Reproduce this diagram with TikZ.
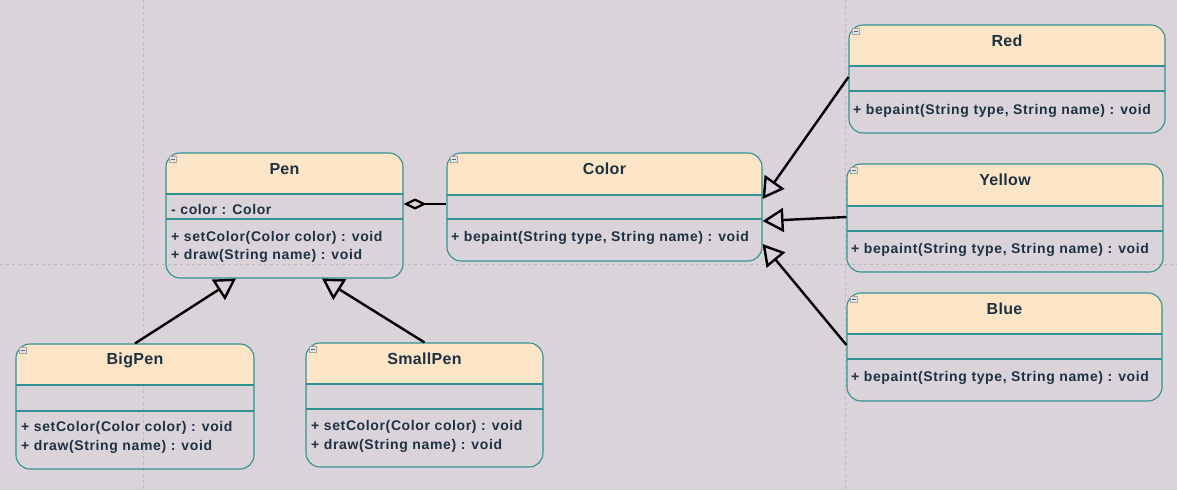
\documentclass[tikz,border=0pt]{standalone}
\usepackage{fontspec}
\setmainfont{Liberation Sans}
\newfontfamily\bodyfont[LetterSpace=4.5]{Liberation Sans}
\newfontfamily\titlefont[LetterSpace=2]{Liberation Sans}
\usetikzlibrary{arrows.meta,fit}
\definecolor{bgc}{HTML}{DBD3DA}
\definecolor{headc}{HTML}{FBE5C6}
\definecolor{framec}{HTML}{309191}
\definecolor{txtc}{HTML}{1E3142}
\definecolor{gridc}{HTML}{C2B9C1}
\tikzset{
  classframe/.style={draw=framec, line width=1.1pt, rounded corners=14pt, inner sep=0pt, fill=none},
  sepline/.style={draw=framec, line width=1.3pt},
  titletxt/.style={font=\titlefont\bfseries\fontsize{16}{18}\selectfont, text=txtc, inner sep=0pt, anchor=center},
  bodytxt/.style={font=\bodyfont\bfseries\fontsize{14}{18}\selectfont, text=txtc, inner sep=0pt, anchor=west, align=left},
  gen/.style={draw=black, line width=2.4pt, -{Triangle[open, length=21pt, width=24pt, line width=2.4pt]}},
  agg/.style={draw=black, line width=2.4pt, -{Diamond[open, length=23pt, width=11pt, line width=2.2pt]}},
  gridline/.style={draw=gridc, dashed, line width=0.7pt},
  iconbox/.style={draw=gray!70, fill=gray!20, line width=0.5pt}
}
% name, x1, y1, x2, y2, header bottom, separator, title
\newcommand\umlbox[8]{%
  \begin{scope}
    \clip[rounded corners=14pt] (#2,#3) rectangle (#4,#5);
    \fill[headc] (#2,#3) rectangle (#4,#6);
  \end{scope}
  \node[classframe, fit={(#2,#3) (#4,#5)}] (#1) {};
  \draw[sepline] (#2,#6) -- (#4,#6);
  \draw[sepline] (#2,#7) -- (#4,#7);
  \draw[iconbox] (#2+3,#3+3) rectangle (#2+10,#3+9);
  \draw[gray!80!black, line width=0.6pt] (#2+4.5,#3+6) -- (#2+8.5,#3+6);
  \node[titletxt] (#1-title) at ({(#2+#4)/2}, #3+16) {#8};
}
\begin{document}
\begin{tikzpicture}[x=1pt,y=-1pt]
\useasboundingbox (0,0) rectangle (1177,490);
\fill[bgc] (0,0) rectangle (1177,490);
\draw[gridline] (143,0) -- (143,490);
\draw[gridline] (845,0) -- (845,490);
\draw[gridline] (0,264) -- (1177,264);

\umlbox{red}{849}{25}{1165}{133}{66}{91}{Red}
\node[bodytxt] (red-m) at (853,111) {+ bepaint(String type, String name) : void};

\umlbox{yellow}{847}{164}{1163}{272}{206}{231}{Yellow}
\node[bodytxt] (yellow-m) at (851,250) {+ bepaint(String type, String name) : void};

\umlbox{blue}{847}{293}{1162}{401}{334}{359}{Blue}
\node[bodytxt] (blue-m) at (851,378) {+ bepaint(String type, String name) : void};

\umlbox{color}{447}{153}{762}{261}{195}{219}{Color}
\node[bodytxt] (color-m) at (451,238) {+ bepaint(String type, String name) : void};

\umlbox{pen}{166}{153}{403}{278}{194}{219}{Pen}
\node[bodytxt] (pen-a) at (171,209) {- color : Color};
\node[bodytxt] (pen-m1) at (171,238) {+ setColor(Color color) : void};
\node[bodytxt] (pen-m2) at (171,256) {+ draw(String name) : void};

\umlbox{bigpen}{16}{344}{254}{469}{385}{411}{BigPen}
\node[bodytxt] (bigpen-m1) at (21,428) {+ setColor(Color color) : void};
\node[bodytxt] (bigpen-m2) at (21,447) {+ draw(String name) : void};

\umlbox{smallpen}{306}{343}{543}{467}{384}{409}{SmallPen}
\node[bodytxt] (smallpen-m1) at (311,427) {+ setColor(Color color) : void};
\node[bodytxt] (smallpen-m2) at (311,446) {+ draw(String name) : void};

% connectors
\draw[agg] (color.west |- 0,204) -- (pen.east |- 0,204);
\draw[gen] (bigpen.north) -- (pen.south -| 236,0);
\draw[gen] (smallpen.north) -- (pen.south -| 322,0);
\draw[gen] (red.west |- 0,77) -- (color.east |- 0,199);
\draw[gen] (yellow.west |- 0,217) -- (color.east |- 0,221);
\draw[gen] (blue.west |- 0,345) -- (color.east |- 0,244);
\end{tikzpicture}
\end{document}
